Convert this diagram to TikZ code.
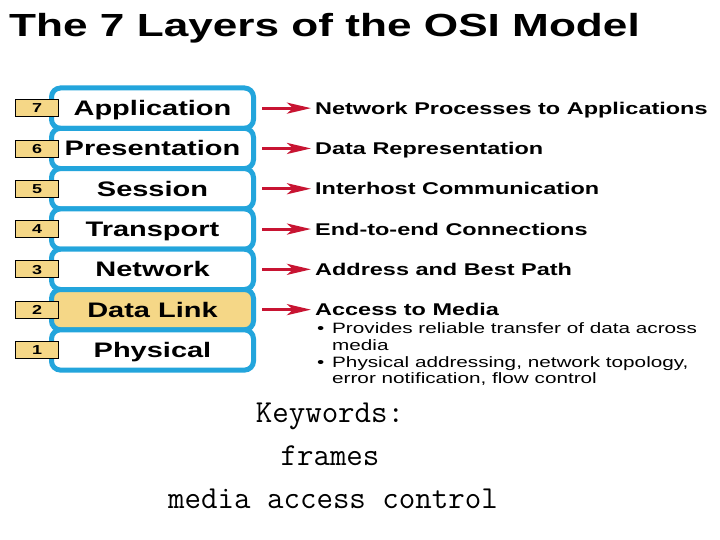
\documentclass[tikz,border=0pt]{standalone}
\usepackage{fontspec}
\usepackage{tikz}
\usetikzlibrary{arrows.meta}
\newfontfamily\arialw[FakeStretch=1.38]{Liberation Sans}
\definecolor{osiblue}{RGB}{35, 165, 220}
\definecolor{ositan}{RGB}{245, 215, 135}
\definecolor{osired}{RGB}{200, 20, 50}

\tikzset{
  layerbox/.style={draw=osiblue, line width=5pt, rounded corners=9pt, fill=white,
    minimum width=202pt, minimum height=40.3pt, inner sep=0pt,
    text height=15pt, text depth=0pt,
    font=\arialw\bfseries\fontsize{21}{25}\selectfont},
  numbox/.style={draw=black, line width=0.8pt, fill=ositan,
    minimum width=43pt, minimum height=17pt, inner sep=0pt,
    text height=9.3pt, text depth=0pt,
    font=\arialw\bfseries\fontsize{13}{15}\selectfont},
  desc/.style={anchor=west, inner xsep=4pt, inner ysep=0pt,
    text height=12.2pt, text depth=0pt,
    font=\arialw\bfseries\fontsize{17}{20}\selectfont},
  bullet/.style={anchor=base west, inner sep=0pt,
    font=\arialw\fontsize{15}{18}\selectfont},
  toarrow/.style={draw=osired, line width=3pt,
    -{Stealth[length=24pt, width=11pt, inset=6pt]}},
  keyword/.style={anchor=base, inner sep=0pt,
    font=\ttfamily\fontsize{32}{36}\selectfont}
}

\begin{document}
\begin{tikzpicture}[x=1pt, y=-1pt]
    \def\lx{152.5}
    \def\nx{37}
    \def\ry{108.15}
    \def\rh{40.3}
    \useasboundingbox[fill=white] (0,0) rectangle (720,540);

    % title
    \node[anchor=base west, inner sep=0pt, font=\arialw\bfseries\fontsize{32}{38}\selectfont]
      (title) at (9, 37) {The 7 Layers of the OSI Model};

    % layer stack, top to bottom
    \node[layerbox] (l7) at (\lx, \ry) {Application};
    \node[layerbox] (l6) at (\lx, \ry+\rh) {Presentation};
    \node[layerbox] (l5) at (\lx, \ry+2*\rh) {Session};
    \node[layerbox] (l4) at (\lx, \ry+3*\rh) {Transport};
    \node[layerbox] (l3) at (\lx, \ry+4*\rh) {Network};
    \node[layerbox, fill=ositan] (l2) at (\lx, \ry+5*\rh) {Data Link};
    \node[layerbox] (l1) at (\lx, \ry+6*\rh) {Physical};

    % layer numbers
    \node[numbox] (n7) at (\nx, \ry) {7};
    \node[numbox] (n6) at (\nx, \ry+\rh) {6};
    \node[numbox] (n5) at (\nx, \ry+2*\rh) {5};
    \node[numbox] (n4) at (\nx, \ry+3*\rh) {4};
    \node[numbox] (n3) at (\nx, \ry+4*\rh) {3};
    \node[numbox] (n2) at (\nx, \ry+5*\rh) {2};
    \node[numbox] (n1) at (\nx, \ry+6*\rh) {1};

    % what each layer does
    \node[desc] (d7) at (311, \ry) {Network Processes to Applications};
    \node[desc] (d6) at (311, \ry+\rh) {Data Representation};
    \node[desc] (d5) at (311, \ry+2*\rh) {Interhost Communication};
    \node[desc] (d4) at (311, \ry+3*\rh) {End-to-end Connections};
    \node[desc] (d3) at (311, \ry+4*\rh) {Address and Best Path};
    \node[desc] (d2) at (311, \ry+5*\rh) {Access to Media};

    \coordinate (a7) at (262, \ry);
    \coordinate (a6) at (262, \ry+\rh);
    \coordinate (a5) at (262, \ry+2*\rh);
    \coordinate (a4) at (262, \ry+3*\rh);
    \coordinate (a3) at (262, \ry+4*\rh);
    \coordinate (a2) at (262, \ry+5*\rh);
    \draw[toarrow] (a7) -- (d7.west);
    \draw[toarrow] (a6) -- (d6.west);
    \draw[toarrow] (a5) -- (d5.west);
    \draw[toarrow] (a4) -- (d4.west);
    \draw[toarrow] (a3) -- (d3.west);
    \draw[toarrow] (a2) -- (d2.west);

    % data link details
    \node[bullet] (b1) at (317, 333) {\makebox[15pt][l]{•}Provides reliable transfer of data across};
    \node[bullet] (b1x) at (332, 350) {media};
    \node[bullet] (b2) at (317, 367) {\makebox[15pt][l]{•}Physical addressing, network topology,};
    \node[bullet] (b2x) at (332, 383.5) {error notification, flow control};

    % keywords
    \node[keyword] (kw1) at (330, 422) {Keywords:};
    \node[keyword] (kw2) at (330, 465) {frames};
    \node[keyword] (kw3) at (333, 508) {media access control};

\end{tikzpicture}
\end{document}
